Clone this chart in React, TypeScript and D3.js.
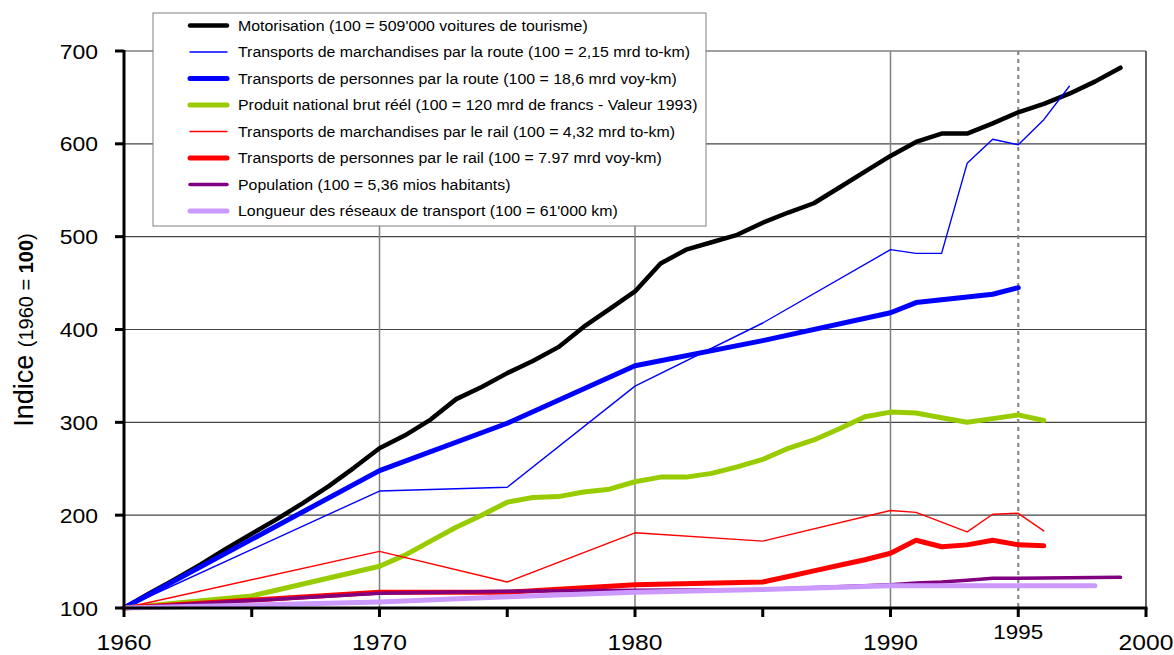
import React from "react";
import * as d3 from "d3";

// ---------- data ----------
const motoYears = [1960, 1961, 1962, 1963, 1964, 1965, 1966, 1967, 1968, 1969, 1970, 1971, 1972, 1973, 1974, 1975, 1976, 1977, 1978, 1979, 1980, 1981, 1982, 1983, 1984, 1985, 1986, 1987, 1988, 1989, 1990, 1991, 1992, 1993, 1994, 1995, 1996, 1997, 1998, 1999];
const motoValues = [100, 116, 131, 147, 164, 180, 196, 213, 231, 251, 272, 286, 303, 325, 338, 353, 366, 381, 403, 422, 441, 471, 486, 494, 502, 515, 526, 536, 553, 570, 587, 602, 611, 611, 622, 634, 643, 654, 667, 682];

const freightRoadYears = [1960, 1970, 1975, 1980, 1985, 1990, 1991, 1992, 1993, 1994, 1995, 1996, 1997];
const freightRoadValues = [100, 226, 230, 339, 407, 486, 482, 482, 579, 605, 599, 626, 662];

const passRoadYears = [1960, 1970, 1975, 1980, 1985, 1990, 1991, 1992, 1993, 1994, 1995];
const passRoadValues = [100, 248, 299, 361, 388, 418, 429, 432, 435, 438, 445];

const gnpYears = [1960, 1965, 1970, 1971, 1972, 1973, 1974, 1975, 1976, 1977, 1978, 1979, 1980, 1981, 1982, 1983, 1984, 1985, 1986, 1987, 1988, 1989, 1990, 1991, 1992, 1993, 1994, 1995, 1996];
const gnpValues = [100, 113, 145, 157, 172, 187, 200, 214, 219, 220, 225, 228, 236, 241, 241, 245, 252, 260, 272, 281, 293, 306, 311, 310, 305, 300, 304, 308, 302];

const freightRailYears = [1960, 1970, 1975, 1980, 1985, 1990, 1991, 1993, 1994, 1995, 1996];
const freightRailValues = [100, 161, 128, 181, 172, 205, 203, 182, 201, 202, 183];

const passRailYears = [1960, 1970, 1975, 1980, 1985, 1986, 1987, 1988, 1989, 1990, 1991, 1992, 1993, 1994, 1995, 1996];
const passRailValues = [100, 117, 117, 125, 128, 134, 140, 146, 152, 159, 173, 166, 168, 173, 168, 167];

const popYears = [1960, 1970, 1975, 1980, 1985, 1990, 1991, 1992, 1993, 1994, 1995, 1999];
const popValues = [100, 116, 118, 119, 120, 125, 127, 128, 130, 132, 132, 133];

const netYears = [1960, 1970, 1975, 1980, 1985, 1990, 1995, 1998];
const netValues = [100, 106.5, 112, 117, 120, 124, 124, 124];

const yTicks = [100, 200, 300, 400, 500, 600, 700];
const xLabelTicks = [1960, 1970, 1980, 1990, 2000];
const xMinorTicks = [1960, 1965, 1970, 1975, 1980, 1985, 1990, 1995, 2000];
const gridYears = [1970, 1980, 1990];

const labels = [
  "Motorisation (100 = 509'000 voitures de tourisme)",
  "Transports de marchandises par la route (100 = 2,15 mrd to-km)",
  "Transports de personnes par la route (100 = 18,6 mrd voy-km)",
  "Produit national brut réél (100 = 120 mrd de francs - Valeur 1993)",
  "Transports de marchandises par le rail (100 = 4,32 mrd to-km)",
  "Transports de personnes par le rail (100 = 7.97 mrd voy-km)",
  "Population (100 = 5,36 mios habitants)",
  "Longueur des réseaux de transport (100 = 61'000 km)",
];

const series = [
  { years: motoYears, values: motoValues, color: "#000000", width: 4.5 },
  { years: freightRoadYears, values: freightRoadValues, color: "#0000ff", width: 1.4 },
  { years: passRoadYears, values: passRoadValues, color: "#0000ff", width: 5 },
  { years: gnpYears, values: gnpValues, color: "#99cc00", width: 5 },
  { years: freightRailYears, values: freightRailValues, color: "#ff0000", width: 1.4 },
  { years: passRailYears, values: passRailValues, color: "#ff0000", width: 5 },
  { years: popYears, values: popValues, color: "#800080", width: 3.5 },
  { years: netYears, values: netValues, color: "#cc99ff", width: 5 },
];

// ---------- layout ----------
const W = 1174;
const H = 655;
const x = d3.scaleLinear().domain([1960, 2000]).range([124, 1146]);
const y = d3.scaleLinear().domain([100, 700]).range([608, 51]);
const FONT = "'Liberation Sans', Arial, sans-serif";
const SX = 1.12;

function T({ tx, ty, anchor = "start", size, children, weight = "normal" }: any) {
  return (
    <text
      transform={`translate(${tx},${ty}) scale(${SX},1)`}
      textAnchor={anchor}
      fontSize={size}
      fontFamily={FONT}
      fontWeight={weight}
      fill="#000"
    >
      {children}
    </text>
  );
}

export default function App() {
  const line = d3
    .line<[number, number]>()
    .x((d) => x(d[0]))
    .y((d) => y(d[1]));

  const left = x(1960);
  const right = x(2000);
  const top = y(700);
  const bottom = y(100);

  return (
    <svg
      width={W}
      height={H}
      style={{ position: "absolute", left: 0, top: 0, background: "#fff" }}
    >
      <rect x={0} y={0} width={W} height={H} fill="#fff" />
      {/* horizontal gridlines */}
      {yTicks
        .filter((v) => v > 100)
        .map((v) => (
          <line key={"h" + v} x1={left} x2={right} y1={y(v)} y2={y(v)} stroke="#444" strokeWidth={1.2} />
        ))}
      {/* vertical gridlines */}
      {gridYears.map((yr) => (
        <line key={"v" + yr} x1={x(yr)} x2={x(yr)} y1={top} y2={bottom} stroke="#808080" strokeWidth={1.5} />
      ))}
      <line x1={x(1995)} x2={x(1995)} y1={top} y2={bottom} stroke="#808080" strokeWidth={2} strokeDasharray="4,4" />
      <line x1={right} x2={right} y1={top} y2={bottom} stroke="#333" strokeWidth={1.5} />

      {/* series */}
      {series.map((s, i) => (
        <path
          key={"s" + i}
          d={line(s.years.map((yr, j) => [yr, s.values[j]] as [number, number])) || ""}
          fill="none"
          stroke={s.color}
          strokeWidth={s.width}
          strokeLinejoin="round"
          strokeLinecap="round"
        />
      ))}

      {/* axes */}
      <line x1={left} x2={left} y1={top - 1} y2={bottom + 1.5} stroke="#000" strokeWidth={3} />
      <line x1={left - 1.5} x2={right + 1.5} y1={bottom} y2={bottom} stroke="#000" strokeWidth={3} />
      {yTicks.map((v) => (
        <line key={"yt" + v} x1={left - 9} x2={left} y1={y(v)} y2={y(v)} stroke="#000" strokeWidth={3} />
      ))}
      {xMinorTicks.map((yr) => (
        <line key={"xt" + yr} x1={x(yr)} x2={x(yr)} y1={bottom} y2={bottom + 9} stroke="#000" strokeWidth={3} />
      ))}

      {/* tick labels */}
      {yTicks.map((v) => (
        <T key={"yl" + v} tx={98} ty={y(v) + 7.5} anchor="end" size={20.5}>
          {v}
        </T>
      ))}
      {xLabelTicks.map((yr) => (
        <T key={"xl" + yr} tx={x(yr)} ty={650} anchor="middle" size={22}>
          {yr}
        </T>
      ))}
      <T tx={x(1995)} ty={639} anchor="middle" size={20}>
        1995
      </T>

      {/* y axis title */}
      <text
        transform={`translate(33,330) rotate(-90)`}
        textAnchor="middle"
        fontFamily={FONT}
        fill="#000"
      >
        <tspan fontSize={27}>Indice </tspan>
        <tspan fontSize={20}>(1960 = </tspan>
        <tspan fontSize={20} fontWeight="bold">100</tspan>
        <tspan fontSize={20}>)</tspan>
      </text>

      {/* legend */}
      <rect x={153} y={13} width={553} height={213} fill="#fff" stroke="#808080" strokeWidth={1} />
      {series.map((s, i) => {
        const ly = 25.5 + i * 26.5;
        return (
          <g key={"lg" + i}>
            <line x1={190} x2={227} y1={ly} y2={ly} stroke={s.color} strokeWidth={s.width} strokeLinecap="round" />
            <T tx={238} ty={ly + 5.2} size={14.2}>
              {labels[i]}
            </T>
          </g>
        );
      })}
    </svg>
  );
}
